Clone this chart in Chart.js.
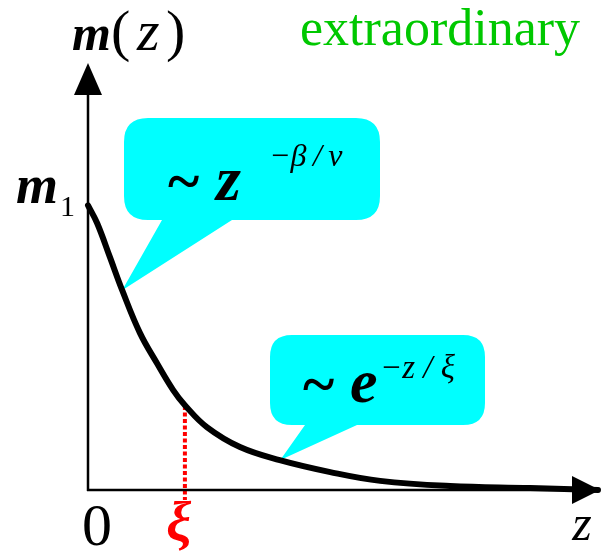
<!DOCTYPE html>
<html>
<head>
<meta charset="utf-8">
<script src="https://cdn.jsdelivr.net/npm/chart.js@4"></script>
<style>
html,body{margin:0;padding:0;background:#fff;}
canvas{display:block;}
</style>
</head>
<body>
<canvas id="c" width="602" height="555"></canvas>
<script>
// Data (z in units of the x axis, m in units of m1)
const zValues = [0, 0.18, 0.43, 0.67, 1.02, 1.35, 1.67, 1.90, 2.33, 2.98, 3.76, 4.75, 5.73, 7.10, 8.67, 10.0];
const mValues = [1.0, 0.937, 0.818, 0.702, 0.551, 0.446, 0.351, 0.298, 0.221, 0.151, 0.105, 0.063, 0.032, 0.014, 0.007, 0.0];
const xiValue = 1.9;
const xiMarkerZ = [1.9, 1.9];
const xiMarkerM = [0.295, -0.035];
const tickLabels = {zero: '0', xi: 'ξ', m1: 'm'};
const axisTitles = {x: 'z', y: 'm(z)'};
const regimeTitle = 'extraordinary';

const curve = zValues.map((z, i) => ({x: z, y: mValues[i]}));
const xiLine = xiMarkerZ.map((z, i) => ({x: z, y: xiMarkerM[i]}));

const SERIF = '"Liberation Serif","DejaVu Serif",serif';
const CYAN = '#00ffff';

function bubble(ctx, x1, y1, x2, y2, r, t1, t2, tip) {
  ctx.beginPath();
  ctx.moveTo(x1 + r, y1);
  ctx.lineTo(x2 - r, y1);
  ctx.quadraticCurveTo(x2, y1, x2, y1 + r);
  ctx.lineTo(x2, y2 - r);
  ctx.quadraticCurveTo(x2, y2, x2 - r, y2);
  ctx.lineTo(t2, y2);
  ctx.lineTo(tip[0], tip[1]);
  ctx.lineTo(t1, y2);
  ctx.lineTo(x1 + r, y2);
  ctx.quadraticCurveTo(x1, y2, x1, y2 - r);
  ctx.lineTo(x1, y1 + r);
  ctx.quadraticCurveTo(x1, y1, x1 + r, y1);
  ctx.closePath();
  ctx.fillStyle = CYAN;
  ctx.fill();
}

const deco = {
  id: 'deco',
  beforeDatasetsDraw(chart) {
    const ctx = chart.ctx;
    const xs = chart.scales.x, ys = chart.scales.y;
    ctx.save();
    bubble(ctx, 124, 118, 380, 220, 24, 162, 232, [xs.getPixelForValue(0.67), ys.getPixelForValue(0.702)]);
    bubble(ctx, 270, 335, 485, 425, 22, 305, 357, [xs.getPixelForValue(3.77), ys.getPixelForValue(0.105)]);
    ctx.restore();
  },
  afterDraw(chart) {
    const ctx = chart.ctx;
    const xs = chart.scales.x, ys = chart.scales.y;
    const x0 = xs.getPixelForValue(0), y0 = ys.getPixelForValue(0);
    const xEnd = xs.right + 2, yTop = ys.top;
    ctx.save();
    ctx.strokeStyle = '#000';
    ctx.fillStyle = '#000';
    ctx.lineWidth = 2.5;
    // y axis
    ctx.beginPath(); ctx.moveTo(x0, y0 + 1); ctx.lineTo(x0, yTop + 28); ctx.stroke();
    ctx.beginPath(); ctx.moveTo(x0, yTop); ctx.lineTo(x0 - 14, yTop + 32); ctx.lineTo(x0 + 14, yTop + 32); ctx.closePath(); ctx.fill();
    // x axis
    ctx.beginPath(); ctx.moveTo(x0 - 1, y0); ctx.lineTo(xEnd - 26, y0); ctx.stroke();
    ctx.beginPath(); ctx.moveTo(xEnd, y0); ctx.lineTo(xEnd - 28, y0 - 14); ctx.lineTo(xEnd - 28, y0 + 14); ctx.closePath(); ctx.fill();

    ctx.textBaseline = 'alphabetic';
    ctx.textAlign = 'left';
    // y title m(z)
    ctx.fillStyle = '#000';
    ctx.font = 'italic bold 50px ' + SERIF;
    ctx.fillText('m', 72, 50);
    ctx.font = '58px ' + SERIF;
    ctx.fillText('(', 111, 50);
    ctx.font = 'italic 58px ' + SERIF;
    ctx.fillText('z', 137, 50);
    ctx.font = '58px ' + SERIF;
    ctx.fillText(')', 166, 50);

    // regime title
    ctx.fillStyle = '#00c800';
    ctx.font = '52px ' + SERIF;
    ctx.fillText(regimeTitle, 300, 45);

    // m1 label
    const ym1 = ys.getPixelForValue(1);
    ctx.fillStyle = '#000';
    ctx.font = 'italic bold 54px ' + SERIF;
    ctx.fillText(tickLabels.m1, 16, ym1 - 2);
    ctx.font = '30px ' + SERIF;
    ctx.fillText('1', 60, ym1 + 11);

    // 0 label
    ctx.font = '60px ' + SERIF;
    ctx.textAlign = 'center';
    ctx.fillText(tickLabels.zero, x0 + 9, 545);
    // xi label
    ctx.fillStyle = '#ff0000';
    ctx.font = 'italic bold 56px ' + SERIF;
    ctx.fillText(tickLabels.xi, xs.getPixelForValue(xiValue) - 6, 541);
    // z label
    ctx.fillStyle = '#000';
    ctx.font = 'italic 50px ' + SERIF;
    ctx.fillText(axisTitles.x, 582, 540);

    // bubble texts
    ctx.textAlign = 'left';
    ctx.font = 'bold 60px ' + SERIF;
    ctx.fillText('~', 168, 201);
    ctx.font = 'italic bold 64px ' + SERIF;
    ctx.fillText('z', 216, 200);
    ctx.font = 'italic 32px ' + SERIF;
    ctx.fillText('−β\u2009/\u2009ν', 269, 166);

    ctx.font = 'bold 60px ' + SERIF;
    ctx.fillText('~', 303, 404);
    ctx.font = 'italic bold 62px ' + SERIF;
    ctx.fillText('e', 350, 402);
    ctx.font = 'italic 33px ' + SERIF;
    ctx.fillText('−z / ξ', 380, 378);
    ctx.restore();
  }
};

new Chart(document.getElementById('c'), {
  type: 'line',
  data: {
    datasets: [
      {
        data: curve,
        borderColor: '#000',
        borderWidth: 6,
        pointRadius: 0,
        tension: 0.4,
        borderCapStyle: 'round',
        fill: false,
        clip: false
      },
      {
        data: xiLine,
        borderColor: '#ff0000',
        borderWidth: 4,
        borderDash: [4, 2.5],
        pointRadius: 0,
        fill: false,
        clip: false
      }
    ]
  },
  options: {
    responsive: false,
    animation: false,
    devicePixelRatio: 1,
    layout: {padding: {left: 88, right: 4, top: 63, bottom: 65}},
    plugins: {legend: {display: false}, tooltip: {enabled: false}},
    scales: {
      x: {type: 'linear', min: 0, max: 10, display: false},
      y: {type: 'linear', min: 0, max: 1.5, display: false}
    }
  },
  plugins: [deco]
});
</script>
</body>
</html>
